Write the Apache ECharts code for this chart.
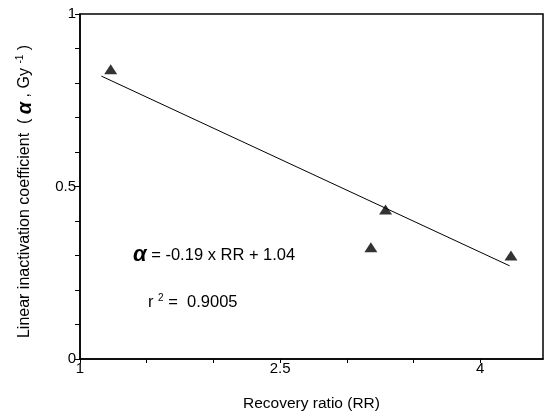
<!DOCTYPE html>
<html>
<head>
<meta charset="utf-8">
<script src="https://cdn.jsdelivr.net/npm/echarts@6/dist/echarts.min.js"></script>
<style>html,body{margin:0;padding:0;background:#fff;}#c{width:551px;height:417px;}</style>
</head>
<body>
<div id="c"></div>
<script>
// Data
const recoveryRatio = [1.23, 3.29, 3.18, 4.23];
const alphaValues = [0.84, 0.433, 0.324, 0.30];
const fitX = [1.16, 4.22];
const fitY = [0.82, 0.27];
const xLabels = ['1', '2.5', '4'];
const yLabels = ['0', '0.5', '1'];
const equationText = '-0.19 x RR + 1.04';
const r2Text = '0.9005';

const points = recoveryRatio.map((x, i) => [x, alphaValues[i]]);
const fit = fitX.map((x, i) => [x, fitY[i]]);

const chart = echarts.init(document.getElementById('c'));
const font = 'Liberation Sans, Arial, sans-serif';
chart.setOption({
  animation: false,
  backgroundColor: '#fff',
  grid: { left: 80, top: 14, right: 8, bottom: 54, show: true, borderColor: '#000', borderWidth: 1.5 },
  xAxis: {
    type: 'value', min: 1, max: 4.47, interval: 0.5,
    name: 'Recovery ratio (RR)', nameLocation: 'middle', nameGap: 37,
    nameTextStyle: { fontFamily: font, fontSize: 15.5, color: '#000' },
    axisLine: { lineStyle: { color: '#000', width: 1.5 } },
    axisTick: { inside: false, length: 4, lineStyle: { color: '#000' } },
    splitLine: { show: false },
    axisLabel: {
      fontFamily: font, fontSize: 15, color: '#000', margin: 2,
      showMaxLabel: false,
      formatter: v => { const s = String(Math.round(v * 100) / 100); return xLabels.includes(s) ? s : ''; }
    }
  },
  yAxis: {
    type: 'value', min: 0, max: 1, interval: 0.1,
    name: '{t|Linear inactivation coefficient  ( }{a|α}{t| , Gy }{s|-1}{t| )}',
    nameLocation: 'middle', nameGap: 45, nameRotate: 90,
    nameTextStyle: {
      fontFamily: font, fontSize: 16, color: '#000', padding: [0, 10, 0, 0],
      rich: {
        t: { fontFamily: font, fontSize: 16, color: '#000' },
        a: { fontFamily: font, fontSize: 20, fontStyle: 'italic', fontWeight: 'bold', color: '#000' },
        s: { fontFamily: font, fontSize: 10, color: '#000', verticalAlign: 'top', padding: [0, 0, 9, 0] }
      }
    },
    axisLine: { lineStyle: { color: '#000', width: 1.5 } },
    axisTick: { inside: false, length: 5, lineStyle: { color: '#000' } },
    splitLine: { show: false },
    axisLabel: {
      fontFamily: font, fontSize: 15, color: '#000', margin: 4,
      formatter: v => { const s = String(Math.round(v * 100) / 100); return yLabels.includes(s) ? s : ''; }
    }
  },
  series: [
    {
      type: 'line', data: fit, symbol: 'none',
      lineStyle: { color: '#000', width: 1 }, silent: true
    },
    {
      type: 'scatter', data: points, symbol: 'triangle', symbolSize: [13, 10],
      itemStyle: { color: '#000' }
    }
  ],
  graphic: [
    {
      type: 'text', left: 133, top: 244,
      style: {
        text: '{a|α} = ' + equationText,
        rich: {
          a: { fontFamily: font, fontSize: 22, fontStyle: 'italic', fontWeight: 'bold', fill: '#000' }
        },
        fontFamily: font, fontSize: 16.5, fill: '#000'
      }
    },
    {
      type: 'text', left: 148, top: 293,
      style: {
        text: 'r {s|2} =  ' + r2Text,
        rich: { s: { fontFamily: font, fontSize: 10, fill: '#000', verticalAlign: 'top', padding: [0, 0, 9, 0] } },
        fontFamily: font, fontSize: 16.5, fill: '#000'
      }
    }
  ]
});
</script>
</body>
</html>
